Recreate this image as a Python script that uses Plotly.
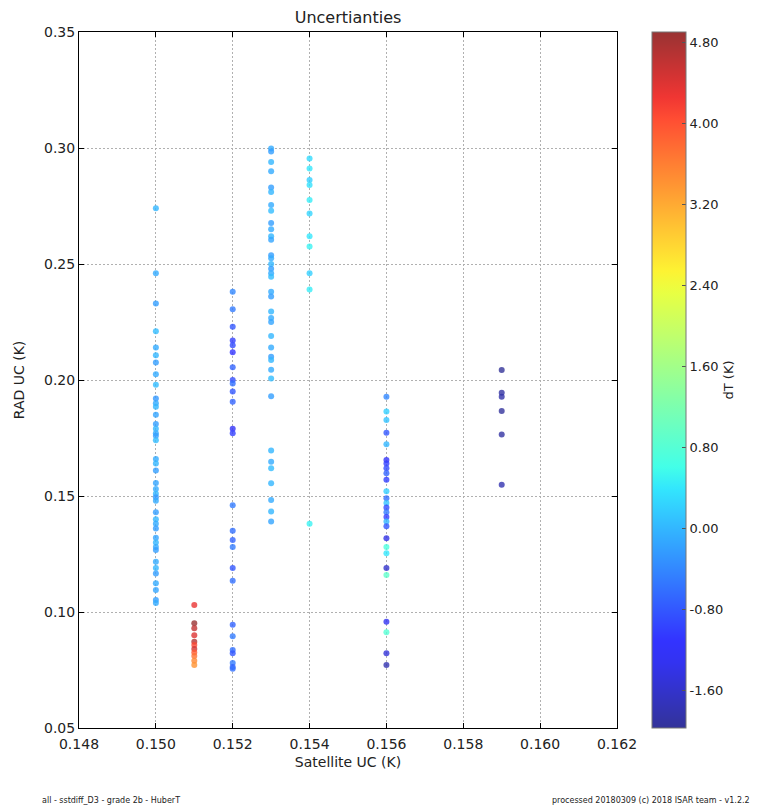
import numpy as np
import plotly.graph_objects as go

# Satellite uncertainty columns (K) and the RAD uncertainty / dT values at each
sat_150 = 0.150
rad_150 = [0.274, 0.246, 0.233, 0.221, 0.214, 0.2107, 0.2075, 0.2025, 0.198, 0.192,
           0.190, 0.1885, 0.185, 0.181, 0.179, 0.177, 0.176, 0.174, 0.166, 0.164,
           0.161, 0.1556, 0.153, 0.151, 0.1495, 0.148, 0.143, 0.140, 0.138, 0.136,
           0.132, 0.130, 0.128, 0.1267, 0.1217, 0.119, 0.1166, 0.1124, 0.1095,
           0.1052, 0.1039]
dt_150 = [0.0, -0.1, -0.2, 0.05, -0.1, 0.0, -0.2, -0.1, 0.05, -0.25, -0.1, 0.0,
          -0.15, -0.2, 0.0, -0.1, -0.2, 0.05, -0.1, 0.0, -0.2, -0.15, -0.1, 0.0,
          -0.25, -0.1, -0.2, 0.0, -0.1, -0.2, -0.15, 0.0, -0.1, -0.2, -0.1, 0.0,
          -0.2, -0.1, -0.15, -0.2, -0.1]

sat_151 = 0.151
rad_151 = [0.103, 0.0951, 0.093, 0.090, 0.0872, 0.0858, 0.084, 0.0825, 0.081,
           0.079, 0.0772]
dt_151 = [4.3, 4.9, 4.6, 4.4, 4.7, 4.1, 4.5, 3.9, 3.7, 3.5, 3.4]

sat_152 = 0.152
rad_152 = [0.238, 0.2305, 0.223, 0.217, 0.215, 0.212, 0.2055, 0.200, 0.1985, 0.195,
           0.1906, 0.179, 0.177, 0.146, 0.135, 0.131, 0.128, 0.119, 0.1135, 0.0945,
           0.0896, 0.0836, 0.0822, 0.078, 0.0763, 0.0755]
dt_152 = [-0.4, -0.5, -0.8, -1.0, -0.9, -1.1, -0.7, -0.9, -0.6, -0.8, -0.7, -1.2,
          -1.0, -0.5, -0.6, -0.7, -0.5, -0.8, -0.6, -0.7, -0.5, -0.6, -0.8, -0.5,
          -0.7, -0.6]

sat_153 = 0.153
rad_153 = [0.2998, 0.2985, 0.294, 0.290, 0.283, 0.281, 0.2754, 0.273, 0.2677, 0.265,
           0.262, 0.2605, 0.2538, 0.2525, 0.250, 0.248, 0.246, 0.2445, 0.238, 0.236,
           0.2295, 0.2267, 0.225, 0.219, 0.214, 0.210, 0.2086, 0.2044, 0.2007, 0.193,
           0.1696, 0.1648, 0.162, 0.1555, 0.1483, 0.1433, 0.139]
dt_153 = [-0.1, -0.2, 0.0, -0.1, -0.2, 0.0, -0.1, 0.05, -0.2, -0.1, 0.0, -0.15,
          -0.2, -0.1, 0.0, -0.2, -0.1, 0.05, -0.1, -0.2, 0.0, -0.1, -0.15, 0.0,
          -0.1, -0.2, 0.0, -0.1, 0.05, -0.2, 0.0, -0.1, 0.05, 0.0, -0.1, 0.0, -0.15]

sat_154 = 0.154
rad_154 = [0.2955, 0.2912, 0.2862, 0.284, 0.2776, 0.2718, 0.262, 0.2575, 0.246,
           0.239, 0.138]
dt_154 = [0.3, 0.4, 0.2, 0.35, 0.45, 0.25, 0.4, 0.5, 0.2, 0.45, 0.5]

sat_156 = 0.156
rad_156 = [0.1928, 0.1864, 0.1828, 0.1773, 0.1723, 0.1655, 0.164, 0.162, 0.1598,
           0.157, 0.152, 0.149, 0.147, 0.145, 0.143, 0.141, 0.139, 0.137, 0.1318,
           0.128, 0.1253, 0.119, 0.116, 0.0958, 0.0913, 0.0822, 0.0772]
dt_156 = [-0.4, 0.2, 0.1, -0.8, 0.0, -1.2, -1.0, -0.9, -0.7, -1.0, 0.2, -0.6, 0.1,
          -0.9, -0.5, -1.0, 0.0, -0.8, -1.4, 0.7, 0.4, -1.6, 0.9, -1.3, 0.8, -1.5,
          -1.8]

sat_159 = 0.159
rad_159 = [0.2043, 0.1945, 0.1928, 0.1866, 0.1765, 0.1548]
dt_159 = [-1.97, -1.9, -1.85, -1.95, -1.9, -1.8]

x_ticks = [0.148, 0.150, 0.152, 0.154, 0.156, 0.158, 0.160, 0.162]
y_ticks = [0.05, 0.10, 0.15, 0.20, 0.25, 0.30, 0.35]
cbar_ticks = [-1.6, -0.8, 0.0, 0.8, 1.6, 2.4, 3.2, 4.0, 4.8]

columns = [
    (sat_150, rad_150, dt_150), (sat_151, rad_151, dt_151), (sat_152, rad_152, dt_152),
    (sat_153, rad_153, dt_153), (sat_154, rad_154, dt_154), (sat_156, rad_156, dt_156),
    (sat_159, rad_159, dt_159),
]
sat = []
rad = []
dt = []
for s, r, d in columns:
    sat += [s] * len(r)
    rad += r
    dt += d


# matplotlib-style "jet" colormap, composited over white at alpha 0.8
def jet_scale(alpha=0.8, n=33):
    pos = np.linspace(0, 1, n)
    r = np.interp(pos, [0, 0.35, 0.66, 0.89, 1], [0, 0, 1, 1, 0.5])
    g = np.interp(pos, [0, 0.125, 0.375, 0.64, 0.91, 1], [0, 0, 1, 1, 0, 0])
    b = np.interp(pos, [0, 0.11, 0.34, 0.65, 1], [0.5, 1, 1, 0, 0])
    scale = []
    for p, rr, gg, bb in zip(pos, r, g, b):
        c = [int(round(255 * (alpha * v + (1 - alpha)))) for v in (rr, gg, bb)]
        scale.append([float(p), f"rgb({c[0]},{c[1]},{c[2]})"])
    return scale


W, H = 757, 812
ML, MR, MT, MB = 79, 140, 32, 84
pw = W - ML - MR
ph = H - MT - MB

fig = go.Figure()
fig.add_trace(go.Scatter(
    x=sat, y=rad, mode="markers",
    marker=dict(
        size=6, symbol="circle", opacity=0.8,
        color=dt, colorscale=jet_scale(), cmin=min(dt), cmax=max(dt),
        line=dict(width=0),
        colorbar=dict(
            x=(652 - ML) / pw, xanchor="left", xpad=0,
            y=0.5, yanchor="middle", len=1.0, lenmode="fraction", ypad=0,
            thickness=34, outlinecolor="#777777", outlinewidth=1,
            tickvals=cbar_ticks, ticktext=[f"{v:.2f}" for v in cbar_ticks],
            ticks="inside", ticklen=4, tickcolor="#555555",
            tickfont=dict(family="DejaVu Sans", size=13, color="#222222"),
            title=dict(text="dT (K)", side="right",
                       font=dict(family="DejaVu Sans", size=13, color="#222222")),
        ),
    ),
    showlegend=False,
    hoverinfo="skip",
))

axis_common = dict(
    showline=True, linecolor="black", linewidth=1, mirror="ticks",
    ticks="inside", ticklen=5, tickcolor="black",
    showgrid=True, gridcolor="#b0b0b0", griddash="2px,2px", gridwidth=1,
    zeroline=False,
    tickfont=dict(family="DejaVu Sans", size=14, color="#222222"),
)

fig.update_xaxes(
    range=[0.148, 0.162], tickvals=x_ticks, ticktext=[f"{v:.3f}" for v in x_ticks],
    ticklabelstandoff=3,
    title=dict(text="Satellite UC (K)", standoff=6,
               font=dict(family="DejaVu Sans", size=14, color="#222222")),
    **axis_common,
)
fig.update_yaxes(
    range=[0.05, 0.35], tickvals=y_ticks, ticktext=[f"{v:.2f}" for v in y_ticks],
    title=dict(text="RAD UC (K)", standoff=16,
               font=dict(family="DejaVu Sans", size=14, color="#222222")),
    **axis_common,
)

fig.update_layout(
    width=W, height=H,
    margin=dict(l=ML, r=MR, t=MT, b=MB),
    paper_bgcolor="white", plot_bgcolor="white",
    title=dict(text="Uncertianties", x=(ML + pw / 2) / W, xanchor="center",
               y=1 - 17 / H, yanchor="middle",
               font=dict(family="DejaVu Sans", size=16, color="#222222")),
    annotations=[
        dict(text="all - sstdiff_D3 - grade 2b - HuberT", xref="paper", yref="paper",
             x=(40 - ML) / pw, y=-(800 - MT - ph) / ph, xanchor="left", yanchor="middle",
             showarrow=False, font=dict(family="DejaVu Sans", size=8, color="#222222")),
        dict(text="processed 20180309 (c) 2018 ISAR team - v1.2.2", xref="paper", yref="paper",
             x=(752 - ML) / pw, y=-(800 - MT - ph) / ph, xanchor="right", yanchor="middle",
             showarrow=False, font=dict(family="DejaVu Sans", size=8, color="#222222")),
    ],
)

fig.write_html("out.html")
